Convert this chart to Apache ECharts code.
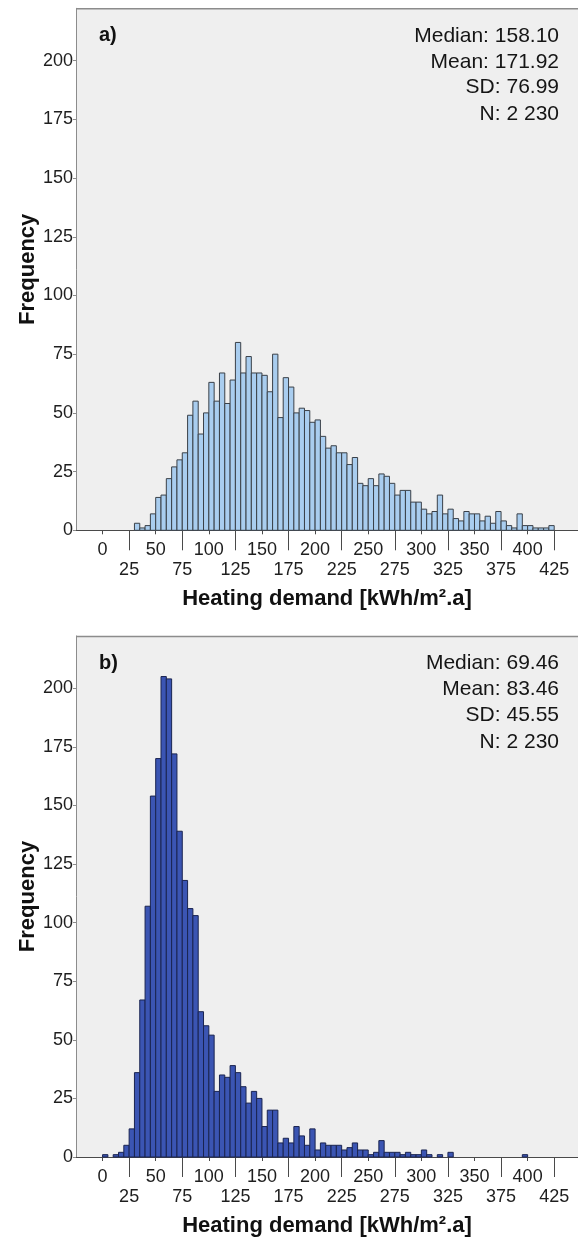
<!DOCTYPE html>
<html>
<head>
<meta charset="utf-8">
<script src="https://cdn.jsdelivr.net/npm/echarts@6/dist/echarts.min.js"></script>
<style>
  html, body { margin: 0; padding: 0; background: #ffffff; }
  #chart { width: 578px; height: 1238px; }
</style>
</head>
<body>
<div id="chart"></div>
<script>
// ---- Data ----
// Panel a): bin lower edges (bin width 5) and frequencies
const binsA = [30,35,40,45,50,55,60,65,70,75,80,85,90,95,100,105,110,115,120,125,
  130,135,140,145,150,155,160,165,170,175,180,185,190,195,200,205,210,215,220,225,
  230,235,240,245,250,255,260,265,270,275,280,285,290,295,300,305,310,315,320,325,
  330,335,340,345,350,355,360,365,370,375,380,385,390,395,400,405,410,415,420];
const countsA = [3,1,2,7,14,15,22,27,30,33,
  49,55,41,50,63,55,67,54,64,80,
  67,74,67,67,66,59,75,48,65,61,
  50,52,51,46,47,40,35,36,33,33,
  28,31,20,19,22,19,24,23,20,15,
  17,17,12,12,9,7,8,15,7,9,
  5,4,8,7,7,4,6,3,8,4,
  2,1,7,2,2,1,1,1,2];

// Panel b)
const binsB = [0,5,10,15,20,25,30,35,40,45,50,55,60,65,70,75,80,85,90,95,
  100,105,110,115,120,125,130,135,140,145,150,155,160,165,170,175,180,185,190,195,
  200,205,210,215,220,225,230,235,240,245,250,255,260,265,270,275,280,285,290,295,
  300,305,310,315,320,325,330,335,340,345,350,355,360,365,370,375,380,385,390,395];
const countsB = [1,0,1,2,5,12,36,67,107,154,
  170,205,204,172,139,118,106,103,62,56,
  52,28,35,34,39,36,30,23,28,25,
  13,20,20,6,8,6,13,9,5,12,
  3,6,5,5,5,3,4,6,3,3,
  1,2,7,2,2,2,1,2,1,1,
  3,1,0,1,0,2,0,0,0,0,
  0,0,0,0,0,0,0,0,0,1];
const binWidth = 5;

// Tick labels
const xTicksEven = [0,50,100,150,200,250,300,350,400];
const xTicksOdd = [25,75,125,175,225,275,325,375,425];
const yTicks = [0,25,50,75,100,125,150,175,200];

// Annotations
const statsA = ['Median: 158.10', 'Mean: 171.92', 'SD: 76.99', 'N: 2 230'];
const statsB = ['Median: 69.46', 'Mean: 83.46', 'SD: 45.55', 'N: 2 230'];
const panelLabels = ['a)', 'b)'];
const xTitle = 'Heating demand [kWh/m\u00b2.a]';
const yTitle = 'Frequency';

// ---- Build chart ----
const FONT = '"Liberation Sans", Arial, Helvetica, sans-serif';
const XMIN = -25, XMAX = 447.4, YMAX = 222.3;
const gridTops = [8.3, 636];
const gridH = 522;
const gridLeft = 76;

function makeGrid(top) {
  return { left: gridLeft, top: top, right: 0, height: gridH, show: true,
    backgroundColor: '#efefef', borderColor: 'rgba(0,0,0,0)', borderWidth: 0, containLabel: false };
}
function xEven(gi) {
  return { type: 'value', gridIndex: gi, min: XMIN, max: XMAX, position: 'bottom',
    axisLine: { show: true, onZero: false, lineStyle: { color: '#4a4a4a', width: 1 } },
    axisTick: { show: true, customValues: xTicksEven, length: 4, lineStyle: { color: '#4a4a4a' } },
    axisLabel: { customValues: xTicksEven, margin: 11, fontSize: 18, color: '#1e1e1e', fontFamily: FONT },
    splitLine: { show: false },
    name: xTitle, nameLocation: 'middle', nameGap: 58, nameMoveOverlap: false,
    nameTextStyle: { fontSize: 22, fontWeight: 'bold', color: '#111', fontFamily: FONT } };
}
function xOdd(gi) {
  return { type: 'value', gridIndex: gi, min: XMIN, max: XMAX, position: 'bottom',
    axisLine: { show: false, onZero: false },
    axisTick: { show: true, customValues: xTicksOdd, length: 20, lineStyle: { color: '#4a4a4a' } },
    axisLabel: { customValues: xTicksOdd, margin: 31, fontSize: 18, color: '#1e1e1e', fontFamily: FONT },
    splitLine: { show: false } };
}
function yAx(gi) {
  return { type: 'value', gridIndex: gi, min: 0, max: YMAX,
    axisLine: { show: true, onZero: false, lineStyle: { color: '#8c8c8c', width: 1 } },
    axisTick: { show: true, customValues: yTicks, length: 3, lineStyle: { color: '#8c8c8c' } },
    axisLabel: { customValues: yTicks, margin: 3, fontSize: 18, color: '#1e1e1e', fontFamily: FONT,
      padding: [7, 0, 0, 0] },
    splitLine: { show: false },
    name: yTitle, nameLocation: 'middle', nameGap: 37, nameRotate: 90, nameMoveOverlap: false,
    nameTextStyle: { fontSize: 22, fontWeight: 'bold', color: '#111', fontFamily: FONT } };
}
function histSeries(gi, bins, counts, fill, stroke) {
  const data = bins.map((b, i) => [b, b + binWidth, counts[i]]);
  return {
    type: 'custom', coordinateSystem: 'cartesian2d',
    xAxisIndex: gi * 2, yAxisIndex: gi,
    encode: { x: [0, 1], y: 2 },
    data: data, z: 3,
    renderItem: function (params, api) {
      const v = api.value(2);
      if (!v) return null;
      const p0 = api.coord([api.value(0), v]);
      const p1 = api.coord([api.value(1), 0]);
      return { type: 'rect',
        shape: { x: p0[0], y: p0[1], width: p1[0] - p0[0], height: p1[1] - p0[1] },
        style: { fill: fill, stroke: stroke, lineWidth: 1 } };
    }
  };
}

const graphics = [];
const statLineOffsets = [27.5, 53.5, 79.3, 106];
[statsA, statsB].forEach((stats, gi) => {
  const top = gridTops[gi];
  // top frame line of the plot area
  graphics.push({ type: 'line', shape: { x1: gridLeft, y1: top + 0.5, x2: 578, y2: top + 0.5 },
    style: { stroke: '#8c8c8c', lineWidth: 1.5 }, z: 10 });
  graphics.push({ type: 'text', left: 99, top: top + 28 - 11,
    style: { text: panelLabels[gi], font: 'bold 20px ' + FONT, fill: '#111' } });
  stats.forEach((s, k) => {
    graphics.push({ type: 'text', x: 559, y: top + statLineOffsets[k],
      style: { text: s, font: '21px ' + FONT, fill: '#151515', align: 'right', verticalAlign: 'middle' } });
  });
});

const chart = echarts.init(document.getElementById('chart'), null, { renderer: 'canvas' });
chart.setOption({
  animation: false,
  backgroundColor: '#ffffff',
  grid: [makeGrid(gridTops[0]), makeGrid(gridTops[1])],
  xAxis: [xEven(0), xOdd(0), xEven(1), xOdd(1)],
  yAxis: [yAx(0), yAx(1)],
  series: [
    histSeries(0, binsA, countsA, '#a9cdef', '#3a4048'),
    histSeries(1, binsB, countsB, '#3b55b3', '#1a2450')
  ],
  graphic: graphics
});
</script>
</body>
</html>
